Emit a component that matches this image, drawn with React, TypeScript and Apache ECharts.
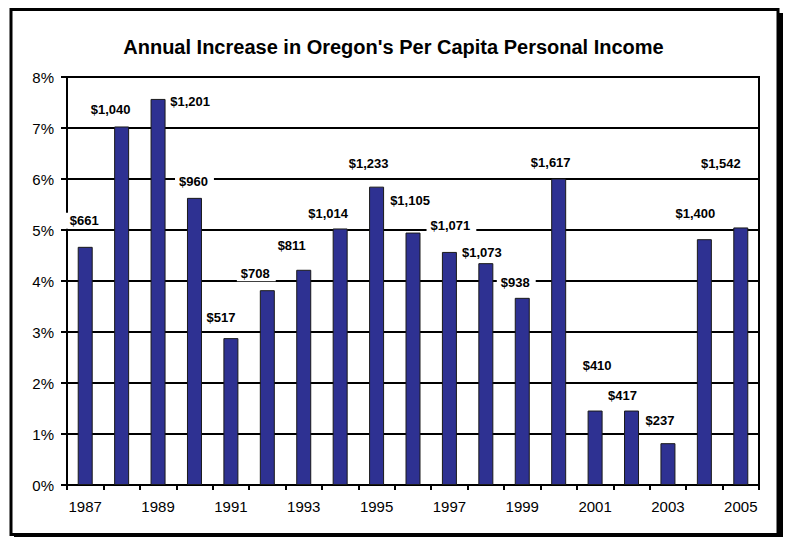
import React, { useEffect, useRef } from "react";
import * as echarts from "echarts";

const years = [
  "1987", "1988", "1989", "1990", "1991", "1992", "1993", "1994", "1995", "1996",
  "1997", "1998", "1999", "2000", "2001", "2002", "2003", "2004", "2005",
];
const pctIncrease = [
  4.67, 7.03, 7.57, 5.63, 2.88, 3.82, 4.22, 5.03, 5.85, 4.95,
  4.57, 4.35, 3.67, 6.01, 1.46, 1.46, 0.82, 4.82, 5.05,
];
const dollarIncrease = [
  661, 1040, 1201, 960, 517, 708, 811, 1014, 1233, 1105,
  1071, 1073, 938, 1617, 410, 417, 237, 1400, 1542,
];
const yTicks = [0, 1, 2, 3, 4, 5, 6, 7, 8];

// label placement tweaks (pixels, relative to the default "top" position)
const labelOffsets: [number, number][] = [
  [0, -18], [-10, -9], [33, 11], [0, -8], [-9, -13], [-11, -9], [-11, -16],
  [-11, -7], [-7, -15], [-2, -24], [2, -18], [-3, -3], [-6, -7], [-7, -8],
  [3, -37], [-8, -7], [-7, -15], [-8, -18], [-19, -56],
];

const FONT = "'Liberation Sans', Arial, Helvetica, sans-serif";

export default function App() {
  const ref = useRef<HTMLDivElement>(null);
  useEffect(() => {
    if (!ref.current) return;
    const chart = echarts.init(ref.current, undefined, { renderer: "svg" });
    const fmt = (v: number) => "$" + v.toLocaleString("en-US");
    chart.setOption({
      animation: false,
      backgroundColor: "#ffffff",
      title: {
        text: "Annual Increase in Oregon's Per Capita Personal Income",
        left: "center",
        top: 32,
        textStyle: { fontFamily: FONT, fontSize: 20, fontWeight: "bold", color: "#000" },
      },
      graphic: [
        { type: "rect", z: 100, shape: { x: 11, y: 9.5, width: 767, height: 525 }, style: { fill: "none", stroke: "#000", lineWidth: 3 } },
        { type: "rect", z: 100, shape: { x: 779, y: 13, width: 4, height: 524 }, style: { fill: "#000" } },
        { type: "rect", z: 100, shape: { x: 14, y: 535, width: 769, height: 2 }, style: { fill: "#000" } },
      ],
      grid: {
        left: 67,
        right: 28,
        top: 77,
        bottom: 52,
        show: true,
        borderColor: "#000",
        borderWidth: 2,
        backgroundColor: "transparent",
      },
      xAxis: {
        type: "category",
        data: years,
        boundaryGap: true,
        axisLine: { lineStyle: { color: "#000", width: 2 } },
        axisTick: { show: true, interval: 0, length: 5, alignWithLabel: false, lineStyle: { color: "#000", width: 2 } },
        axisLabel: { interval: 1, margin: 14, fontFamily: FONT, fontSize: 15, color: "#000" },
        splitLine: { show: false },
      },
      yAxis: {
        type: "value",
        min: yTicks[0],
        max: yTicks[yTicks.length - 1],
        interval: 1,
        axisLine: { show: true, lineStyle: { color: "#000", width: 2 } },
        axisTick: { show: true, length: 6, lineStyle: { color: "#000", width: 2 } },
        axisLabel: { formatter: "{value}%", margin: 13, fontFamily: FONT, fontSize: 15, color: "#000" },
        splitLine: { show: true, lineStyle: { color: "#000", width: 2 } },
      },
      series: [
        {
          type: "bar",
          barWidth: 15,
          itemStyle: { color: "#2E3192", borderColor: "#1a1a1a", borderWidth: 1 },
          label: {
            show: true,
            position: "top",
            distance: 0,
            fontFamily: FONT,
            fontSize: 13,
            fontWeight: "bold",
            color: "#000",
            lineHeight: 14,
            backgroundColor: "#fff",
            padding: [1, 6, 1, 4],
          },
          data: pctIncrease.map((v, i) => ({
            value: v,
            label: { formatter: fmt(dollarIncrease[i]), offset: labelOffsets[i] },
          })),
        },
      ],
    });
    return () => chart.dispose();
  }, []);
  return (
    <div
      ref={ref}
      style={{ position: "absolute", left: 0, top: 0, width: 787, height: 537 }}
    />
  );
}
